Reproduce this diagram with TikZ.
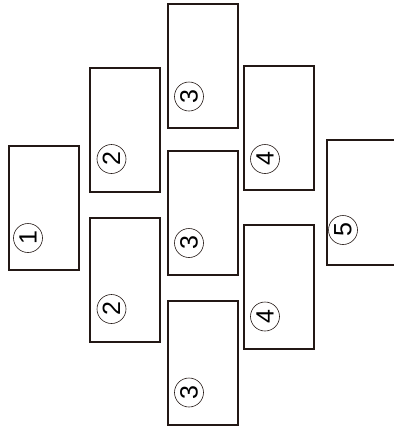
\documentclass[tikz,border=0pt]{standalone}
\usepackage{fontspec}
\setmainfont{Liberation Sans}
\definecolor{boxc}{HTML}{231815}
\begin{document}
\begin{tikzpicture}[x=1pt,y=-1pt,
  panel/.style={draw=boxc, line width=2pt, minimum width=70pt, minimum height=124pt, inner sep=0pt, outer sep=0pt},
  num/.style={circle, draw=boxc, line width=0.6pt, minimum size=29pt, inner sep=0pt, rotate=90, font=\fontsize{25}{25}\selectfont}]
\useasboundingbox (0,0) rectangle (394,429);
% panels
\node[panel] (b1)  at (44,208)    {};
\node[panel] (b2a) at (124.5,130) {};
\node[panel] (b2b) at (124.5,280) {};
\node[panel] (b3a) at (203,65.5)  {};
\node[panel] (b3b) at (203,213)   {};
\node[panel] (b3c) at (203,362.5) {};
\node[panel] (b4a) at (279,128)   {};
\node[panel] (b4b) at (279,286.5) {};
% panel 5 runs off the right edge
\coordinate (b5tr) at (396,140);
\coordinate (b5tl) at (327,140);
\coordinate (b5bl) at (327,265);
\coordinate (b5br) at (396,265);
\draw[boxc, line width=2pt] (b5tr) -- (b5tl) -- (b5bl) -- (b5br);
% circled numbers
\node[num] (n1)  at ([shift={(19,-32)}]b1.south west)  {1};
\node[num] (n2a) at ([shift={(22,-33)}]b2a.south west) {2};
\node[num] (n2b) at ([shift={(22,-33)}]b2b.south west) {2};
\node[num] (n3a) at ([shift={(21,-31)}]b3a.south west) {3};
\node[num] (n3b) at ([shift={(21,-32)}]b3b.south west) {3};
\node[num] (n3c) at ([shift={(21,-32)}]b3c.south west) {3};
\node[num] (n4a) at ([shift={(21,-31)}]b4a.south west) {4};
\node[num] (n4b) at ([shift={(21,-32)}]b4b.south west) {4};
\node[num] (n5)  at ([shift={(16,-35)}]b5bl)           {5};
\end{tikzpicture}
\end{document}
